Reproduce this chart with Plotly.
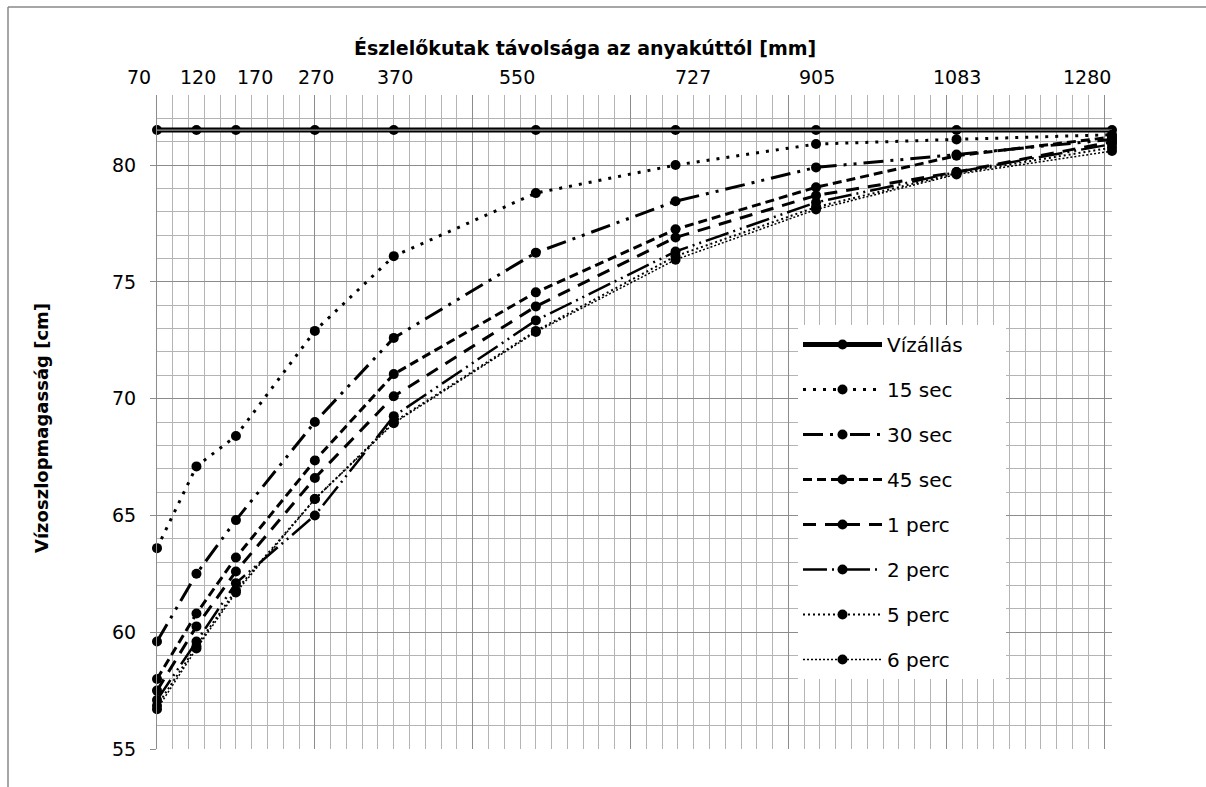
import plotly.graph_objects as go

# ---- data ----
distances = [70, 120, 170, 270, 370, 550, 727, 905, 1083, 1280]
tick_labels = ["70", "120", "170", "270", "370", "550", "727", "905", "1083", "1280"]

vizallas = [81.5, 81.5, 81.5, 81.5, 81.5, 81.5, 81.5, 81.5, 81.5, 81.5]
sec15 = [63.6, 67.1, 68.4, 72.9, 76.1, 78.8, 80.0, 80.9, 81.1, 81.3]
sec30 = [59.6, 62.5, 64.8, 69.0, 72.6, 76.25, 78.45, 79.9, 80.45, 81.1]
sec45 = [58.0, 60.8, 63.2, 67.35, 71.05, 74.55, 77.25, 79.05, 80.4, 81.2]
perc1 = [57.5, 60.25, 62.6, 66.6, 70.1, 73.95, 76.9, 78.7, 79.7, 81.0]
perc2 = [57.1, 59.6, 62.1, 65.0, 69.25, 73.35, 76.3, 78.4, 79.7, 80.9]
perc5 = [56.85, 59.4, 61.8, 65.7, 69.0, 72.9, 76.1, 78.2, 79.65, 80.75]
perc6 = [56.7, 59.3, 61.7, 65.7, 68.95, 72.85, 75.95, 78.1, 79.6, 80.6]

series_names = ["Vízállás", "15 sec", "30 sec", "45 sec", "1 perc", "2 perc", "5 perc", "6 perc"]

# label centre positions along the top edge (layout, in px of the page)
label_px = [139, 198, 255, 316, 395, 517, 693, 817, 957, 1087]

FONT = "DejaVu Sans"
styles = [
    dict(width=5, dash="solid"),
    dict(width=3, dash="3px,7px"),
    dict(width=3, dash="20px,7px,3px,7px,3px,7px"),
    dict(width=3, dash="9px,5px"),
    dict(width=3, dash="13px,9px"),
    dict(width=2.5, dash="24px,5px,2px,5px,2px,5px"),
    dict(width=2, dash="2px,3px"),
    dict(width=1.5, dash="2px,2px"),
]
all_series = [vizallas, sec15, sec30, sec45, perc1, perc2, perc5, perc6]
LEGEND_PAD = "\u00a0" * 6  # widens the white legend panel to the right

fig = go.Figure()
for i, (name, ys, st) in enumerate(zip(series_names, all_series, styles)):
    fig.add_trace(go.Scatter(
        x=distances, y=ys, name=name + (LEGEND_PAD if i == 0 else ""), mode="lines+markers",
        line=dict(color="black", width=st["width"], dash=st["dash"]),
        marker=dict(color="black", size=10, symbol="circle"),
        cliponaxis=False, legendgroup=name,
    ))
    if i == 0:
        fig.add_trace(go.Scatter(
            x=distances, y=ys, mode="lines", showlegend=False,
            line=dict(color="#9a9a9a", width=1.2), hoverinfo="skip",
        ))

L, R, T, B = 157, 94, 95, 38
W, H = 1206, 787
pw, ph = W - L - R, H - T - B

def px_x(px):
    return (px - L) / pw

def px_y(py):
    return (H - B - py) / ph

annotations = []
for lab, px in zip(tick_labels, label_px):
    annotations.append(dict(
        x=px_x(px), y=px_y(77), xref="paper", yref="paper", text=lab,
        showarrow=False, xanchor="center", yanchor="middle",
        font=dict(family=FONT, size=19, color="black"),
    ))
annotations.append(dict(
    x=px_x(585), y=px_y(48), xref="paper", yref="paper",
    text="<b>Észlelőkutak távolsága az anyakúttól [mm]</b>", showarrow=False,
    xanchor="center", yanchor="middle", font=dict(family=FONT, size=19, color="black"),
))
annotations.append(dict(
    x=px_x(42), y=px_y(428), xref="paper", yref="paper",
    text="<b>Vízoszlopmagasság [cm]</b>", showarrow=False, textangle=-90,
    xanchor="center", yanchor="middle", font=dict(family=FONT, size=18, color="black"),
))

shapes = [
    dict(type="line", xref="paper", yref="paper", x0=px_x(8), x1=px_x(1206),
         y0=px_y(7), y1=px_y(7), line=dict(color="#888888", width=1.5)),
    dict(type="line", xref="paper", yref="paper", x0=px_x(8), x1=px_x(8),
         y0=px_y(7), y1=px_y(790), line=dict(color="#888888", width=1.5)),
]

fig.update_layout(
    width=W, height=H,
    margin=dict(l=L, r=R, t=T, b=B),
    paper_bgcolor="white", plot_bgcolor="white",
    font=dict(family=FONT, size=19, color="black"),
    showlegend=True,
    legend=dict(
        x=px_x(798), y=px_y(325), xanchor="left", yanchor="top",
        bgcolor="white", borderwidth=0,
        font=dict(family=FONT, size=20, color="black"),
        tracegroupgap=16, itemwidth=79,
    ),
    xaxis=dict(
        range=[70, 1280], tick0=70, dtick=200, showgrid=True, gridcolor="#8c8c8c", gridwidth=1,
        showticklabels=False, ticks="", zeroline=False, showline=False,
        minor=dict(tick0=70, dtick=20, showgrid=True, gridcolor="#b4b4b4", gridwidth=1),
    ),
    yaxis=dict(
        range=[55, 83], tick0=55, dtick=5, showgrid=True, gridcolor="#8c8c8c", gridwidth=1,
        ticks="outside", ticklen=6, tickcolor="#8c8c8c", ticklabelstandoff=10,
        tickfont=dict(family=FONT, size=19, color="black"),
        zeroline=False, showline=True, linecolor="#8c8c8c", linewidth=1,
        minor=dict(tick0=55, dtick=1, showgrid=True, gridcolor="#b4b4b4", gridwidth=1),
    ),
    annotations=annotations,
    shapes=shapes,
)

fig.write_html("out.html")
